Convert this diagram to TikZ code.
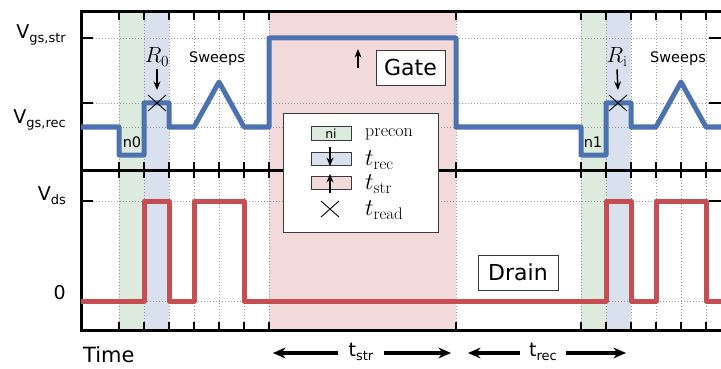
\RequirePackage{fix-cm}
\documentclass[tikz,border=0pt]{standalone}
\usepackage{fontspec}
\usepackage{amsmath}
\newfontfamily\plotfont{DejaVu Sans}
\definecolor{SeabornBlue}{HTML}{4C72B0}
\definecolor{SeabornRed}{HTML}{C44E52}
\definecolor{PreconGreen}{HTML}{DCEBDD}
\definecolor{RecBlue}{HTML}{DAE1EE}
\definecolor{StrPink}{HTML}{F2DADA}
\definecolor{BoxGray}{HTML}{3A3A3A}
\usetikzlibrary{arrows.meta, positioning, calc}
\newcommand{\lowsub}[1]{\raisebox{-4pt}{\fontsize{13}{13}\selectfont #1}}

\begin{document}
\begin{tikzpicture}[
        x=1pt, y=-1pt,
        gridline/.style={gray!80, line width=0.9pt, dash pattern=on 1.4pt off 1.6pt},
        tickmark/.style={black, line width=1.3pt},
        border/.style={black, line width=3pt},
        sig/.style={line width=5pt, line join=round},
        lbl/.style={font=\plotfont\fontsize{19}{19}\selectfont, anchor=east, inner sep=1pt},
        small/.style={font=\plotfont\fontsize{14.5}{14.5}\selectfont, inner sep=0pt},
        tag/.style={draw=BoxGray, fill=white, line width=0.8pt, inner sep=0pt, font=\plotfont\fontsize{22}{22}\selectfont},
        ptr/.style={-{Stealth[length=3mm, width=2.4mm]}, line width=1.5pt, black},
        spanarr/.style={-{Stealth[length=4.4mm, width=3.8mm]}, line width=3.2pt, black},
        crossmark/.style={black, line width=0.9pt},
        keybox/.style={draw=BoxGray, line width=0.8pt, minimum width=40pt, minimum height=13.5pt, inner sep=0pt, font=\plotfont\fontsize{12.5}{12.5}\selectfont},
        keytext/.style={anchor=west, inner sep=0pt, font=\fontsize{24}{24}\selectfont}
    ]
        \useasboundingbox (0,0) rectangle (721,369);

        \fill[PreconGreen] (119,12) rectangle (144,330);
        \fill[RecBlue] (144,12) rectangle (169,330);
        \fill[StrPink] (269,12) rectangle (456,330);
        \fill[PreconGreen] (581,12) rectangle (606,330);
        \fill[RecBlue] (606,12) rectangle (631,330);

        \foreach \gx in {119,144,...,269,456,581,606,...,706} {
            \draw[gridline] (\gx,12) -- (\gx,330);
            \draw[tickmark] (\gx,12) -- (\gx,20);
            \draw[tickmark] (\gx,162) -- (\gx,178);
            \draw[tickmark] (\gx,322) -- (\gx,330);
        }
        \foreach \gy in {38,103,127,201,301}
            \draw[gridline] (81,\gy) -- (721,\gy);
        \foreach \gy in {38,103,201,301} {
            \draw[tickmark] (81,\gy) -- (93,\gy);
            \draw[tickmark] (709,\gy) -- (721,\gy);
        }

        \draw[border] (722,12) -- (81,12) -- (81,330) -- (722,330);
        \draw[border] (81,170) -- (722,170);

        \draw[sig, SeabornBlue] (81,127) -- (119,127) -- (119,155) -- (144,155) -- (144,103) -- (169,103) -- (169,127)
            -- (194,127) -- (219,82) -- (244,127) -- (269,127) -- (269,38) -- (456,38) -- (456,127)
            -- (581,127) -- (581,155) -- (606,155) -- (606,103) -- (631,103) -- (631,127)
            -- (656,127) -- (681,82) -- (706,127) -- (724,127);
        \draw[sig, SeabornRed] (81,301) -- (144,301) -- (144,201) -- (169,201) -- (169,301) -- (194,301) -- (194,201)
            -- (244,201) -- (244,301) -- (606,301) -- (606,201) -- (631,201) -- (631,301) -- (656,301)
            -- (656,201) -- (706,201) -- (706,301) -- (724,301);

        \node[lbl] (vstr) at (67,35) {\plotfont V\lowsub{gs,str}};
        \node[lbl] (vrec) at (67,120) {\plotfont V\lowsub{gs,rec}};
        \node[lbl] (vds) at (67,196) {\plotfont V\lowsub{ds}};
        \node[lbl] (vzero) at (67,293) {0};
        \node[lbl, anchor=west, font=\plotfont\fontsize{21}{21}\selectfont] (time) at (82,355) {Time};

        \node[small] (n0) at (132,142) {n0};
        \node[small] (n1) at (593,142) {n1};
        \node[small] (sw0) at (217,59) {Sweeps};
        \node[small] (sw1) at (678,59) {Sweeps};

        \node[inner sep=1pt, font=\fontsize{22}{22}\selectfont] (r0) at (157,57) {$R_0$};
        \node[inner sep=1pt, font=\fontsize{22}{22}\selectfont] (ri) at (617,57) {$R_\mathrm{i}$};
        \coordinate (read0) at (157,103);
        \coordinate (readi) at (618,103);
        \draw[ptr] ([yshift=-2pt]r0.south) -- ([yshift=13pt]read0);
        \draw[ptr] ([yshift=-2pt]ri.south) -- ([yshift=13pt]readi);
        \draw[crossmark] (read0) +(-9,-8) -- +(9,8) (read0) +(-9,8) -- +(9,-8);
        \draw[crossmark] (readi) +(-9,-8) -- +(9,8) (readi) +(-9,8) -- +(9,-8);

        \coordinate (gatefoot) at (358,68);
        \coordinate (gatehead) at (358,49);
        \draw[ptr] (gatefoot) -- (gatehead);
        \node[tag, minimum width=69pt, minimum height=35pt] (gate) at (410.5,67.5) {Gate};
        \node[tag, minimum width=80pt, minimum height=35pt] (drain) at (518,272.5) {Drain};

        \node[draw=BoxGray, fill=white, line width=0.9pt, minimum width=155pt, minimum height=119pt] (legend) at (360.5,172.5) {};
        \node[keybox, fill=PreconGreen] (kpre) at (331,133.5) {ni};
        \node[keybox, fill=RecBlue] (krec) at (331,159) {};
        \node[keybox, fill=StrPink] (kstr) at (331,183) {};
        \coordinate (kread) at (330,209);
        \draw[ptr] ([xshift=-1pt, yshift=5pt]krec.north) -- ([xshift=-1pt]krec.south);
        \draw[ptr] ([xshift=-1pt, yshift=-3pt]kstr.south) -- ([xshift=-1pt, yshift=2pt]kstr.north);
        \draw[crossmark] (kread) +(-9,-8) -- +(9,8) (kread) +(-9,8) -- +(9,-8);
        \node[keytext, font=\fontsize{18}{18}\selectfont] (tpre) at (365,134) {precon};
        \node[keytext] (trec) at (365,160) {$t_\mathrm{rec}$};
        \node[keytext] (tstrk) at (365,184) {$t_\mathrm{str}$};
        \node[keytext] (treadk) at (365,210) {$t_\mathrm{read}$};

        \node[inner xsep=10pt, font=\plotfont\fontsize{19}{19}\selectfont] (tstr) at (361,352) {t\lowsub{str}};
        \node[inner xsep=9pt, font=\plotfont\fontsize{19}{19}\selectfont] (trecb) at (543,352) {t\lowsub{rec}};
        \coordinate (tstrL) at (273,353);
        \coordinate (tstrR) at (451,353);
        \coordinate (trecL) at (468,353);
        \coordinate (trecR) at (626,353);
        \draw[spanarr] (tstr.west |- tstrL) -- (tstrL);
        \draw[spanarr] (tstr.east |- tstrR) -- (tstrR);
        \draw[spanarr] (trecb.west |- trecL) -- (trecL);
        \draw[spanarr] (trecb.east |- trecR) -- (trecR);
    \end{tikzpicture}
\end{document}
